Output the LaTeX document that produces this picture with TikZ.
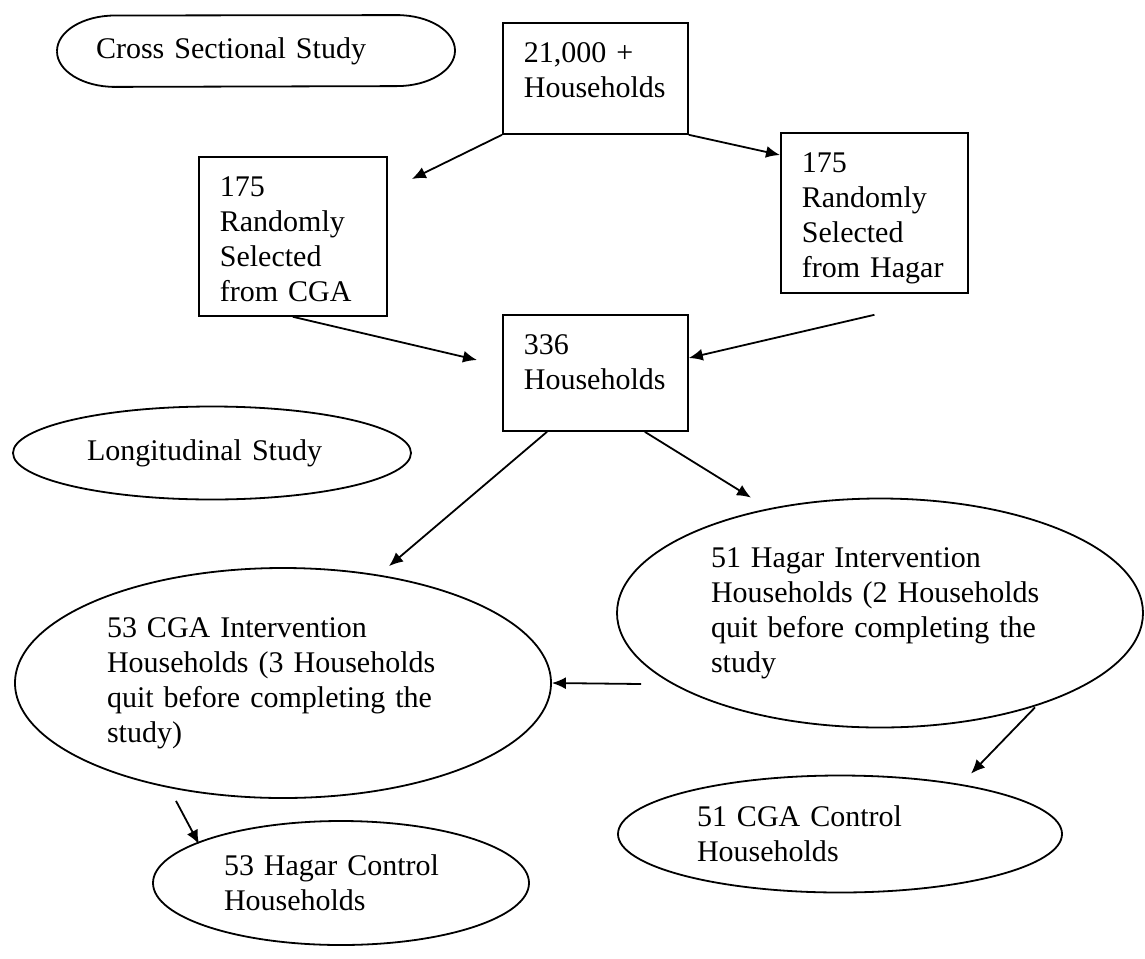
\documentclass[tikz,border=0pt]{standalone}
\usepackage{fontspec}
\setmainfont{Liberation Serif}
\usetikzlibrary{arrows.meta,shapes.geometric}
\tikzset{trait/.style={line width=0.9pt}}
\newcommand{\flow}[2]{\draw[trait,-{Latex[length=7pt,width=6pt]}] (#1) -- (#2)}

\begin{document}
\begin{tikzpicture}[x=0.5pt, y=-0.5pt,
	font=\fontsize{15}{17.5}\selectfont,
	box/.style={draw, trait, anchor=north west, align=left,
		inner xsep=10.5pt, inner ysep=8pt, text height=12pt},
	oval/.style={draw, trait, ellipse, inner sep=0pt, align=left}]
\useasboundingbox (0,0) rectangle (1145,958);
%Study labels
	\node[inner sep=0pt, align=left, minimum width=199pt, minimum height=35.5pt,
		text width=160pt] (cross) at (256,51) {Cross Sectional Study};
	\draw[trait, line join=round] ([shift={(-199,0)}]cross.center)
		arc[start angle=180, end angle=90, x radius=29pt, y radius=17.75pt]
		-- ([shift={(141,0)}]cross.north)
		arc[start angle=90, end angle=-90, x radius=29pt, y radius=17.75pt]
		-- ([shift={(-141,0)}]cross.south)
		arc[start angle=270, end angle=180, x radius=29pt, y radius=17.75pt];
	\node[oval, minimum width=199pt, minimum height=46.5pt, text width=125pt]
		(longi) at (212,453) {Longitudinal Study};
%Boxes
	\node[box, text width=71.5pt, text depth=27.5pt] (top) at (502,22)
		{21,000 +\\Households};
	\node[box, text width=73pt, text depth=51.5pt] (cga) at (198,156)
		{175\\Randomly\\Selected\\from CGA};
	\node[box, text width=72.5pt, text depth=52pt] (hagar) at (780,132)
		{175\\Randomly\\Selected\\from Hagar};
	\node[box, text width=71.5pt, text depth=30pt] (total) at (502,314)
		{336\\Households};
%Groups
	\node[oval, minimum width=268pt, minimum height=115pt, text width=176pt]
		(cgaint) at (283,683)
		{53 CGA Intervention\\Households (3 Households\\quit before completing the\\study)};
	\node[oval, minimum width=263pt, minimum height=114.5pt, text width=169pt]
		(hagint) at (880,613)
		{51 Hagar Intervention\\Households (2 Households\\quit before completing the\\study};
	\node[oval, minimum width=222pt, minimum height=58.5pt, text width=143pt]
		(cgactrl) at (840,834) {51 CGA Control\\Households};
	\node[oval, minimum width=188pt, minimum height=62pt, text width=117pt]
		(hagctrl) at (341,883) {53 Hagar Control\\Households};
%Arrows
	\flow{top.south west}{[shift={(24,23)}]cga.north east};
	\flow{top.south east}{[shift={(0,23)}]hagar.north west};
	\flow{cga.south}{[shift={(-25,46)}]total.north west};
	\flow{[shift={(0,21)}]hagar.south}{[shift={(0,44)}]total.north east};
	\flow{[shift={(45,0)}]total.south west}{[shift={(106,-1)}]cgaint.north};
	\flow{[shift={(-44,0)}]total.south east}{[shift={(-129,0)}]hagint.north};
	\flow{[shift={(25,71)}]hagint.west}{cgaint.east};
	\flow{[shift={(-107,2)}]cgaint.south}{[shift={(-142,24)}]hagctrl.north};
	\flow{[shift={(155,-21)}]hagint.south}{[shift={(131,-1)}]cgactrl.north};
\end{tikzpicture}
\end{document}
